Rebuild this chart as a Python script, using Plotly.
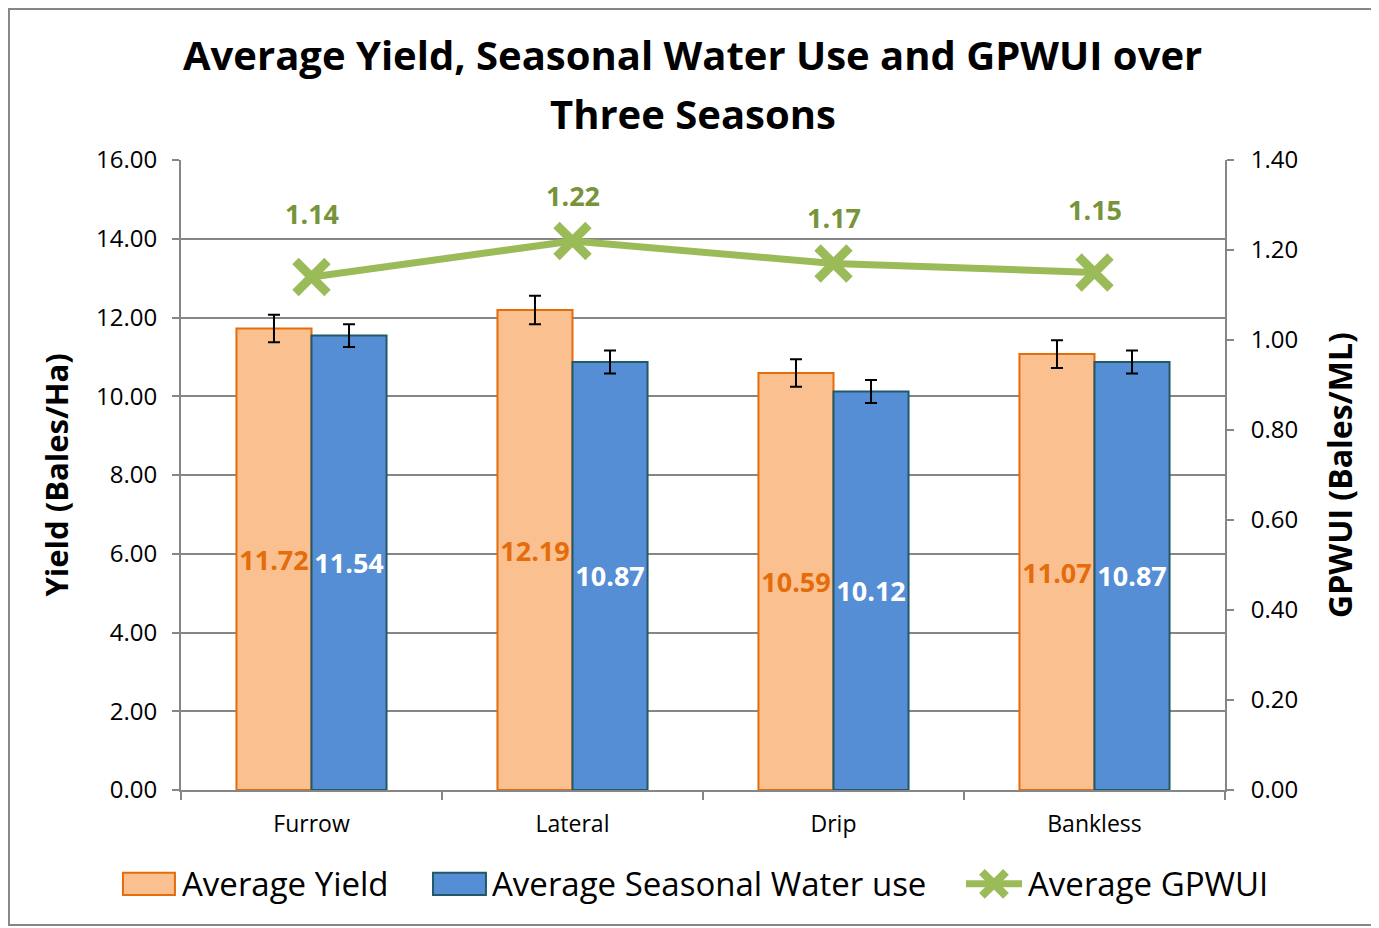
import plotly.graph_objects as go

# data
methods = ["Furrow", "Lateral", "Drip", "Bankless"]
avg_yield = [11.72, 12.19, 10.59, 11.07]
yield_err = [0.35, 0.36, 0.35, 0.35]
avg_water = [11.54, 10.87, 10.12, 10.87]
water_err = [0.29, 0.29, 0.29, 0.29]
avg_gpwui = [1.14, 1.22, 1.17, 1.15]

y_ticks = [0, 2, 4, 6, 8, 10, 12, 14, 16]
y2_ticks = [0, 0.2, 0.4, 0.6, 0.8, 1.0, 1.2, 1.4]

FONT = "Open Sans"
GRID = "#868686"
YIELD_FILL, YIELD_EDGE = "#FAC090", "#E46C0A"
WATER_FILL, WATER_EDGE = "#558ED5", "#215968"
GREEN, GREEN_DARK = "#9BBB59", "#77933C"

fig = go.Figure()

fig.add_trace(go.Bar(
    x=methods, y=avg_yield, name="Average Yield", showlegend=False,
    marker=dict(color=YIELD_FILL, line=dict(color=YIELD_EDGE, width=2)),
    error_y=dict(type="data", array=yield_err, color="black", thickness=2, width=6),
    text=[f"{v:.2f}" for v in avg_yield],
    textposition="inside", insidetextanchor="middle", constraintext="none",
    textfont=dict(family=FONT, size=27, color=YIELD_EDGE, weight="bold"),
    textangle=0,
))

fig.add_trace(go.Bar(
    x=methods, y=avg_water, name="Average Seasonal Water use", showlegend=False,
    marker=dict(color=WATER_FILL, line=dict(color=WATER_EDGE, width=2)),
    error_y=dict(type="data", array=water_err, color="black", thickness=2, width=6),
    text=[f"{v:.2f}" for v in avg_water],
    textposition="inside", insidetextanchor="middle", constraintext="none",
    textfont=dict(family=FONT, size=27, color="white", weight="bold"),
    textangle=0,
))

fig.add_trace(go.Scatter(
    x=methods, y=avg_gpwui, name="Average GPWUI", yaxis="y2", showlegend=False,
    mode="lines+markers",
    line=dict(color=GREEN, width=7),
    marker=dict(symbol="x-thin", size=32, color=GREEN,
                line=dict(color=GREEN, width=9)),
))

# value labels above the GPWUI points (Excel labels were nudged by hand)
label_shift = [64, 46, 46, 63]
for m, v, s in zip(methods, avg_gpwui, label_shift):
    fig.add_annotation(
        x=m, y=v, yref="y2", text=f"{v:.2f}", showarrow=False, yshift=s,
        font=dict(family=FONT, size=27, color=GREEN_DARK, weight="bold"),
    )

# two-line title, placed as annotations to get the wider line spacing
title_lines = ["Average Yield, Seasonal Water Use and GPWUI over", "Three Seasons"]
for line, shift in zip(title_lines, [106, 47]):
    fig.add_annotation(
        x=0.49, xref="paper", y=1, yref="paper", yshift=shift,
        xanchor="center", yanchor="middle", text=line, showarrow=False,
        font=dict(family=FONT, size=40, color="black", weight="bold"),
    )

# Excel-style legend with wide swatches, drawn by hand below the plot
leg_y, leg_h = -0.149, 0.0175
leg_font = dict(family=FONT, size=33, color="black")
swatches = [
    ("Average Yield", YIELD_FILL, YIELD_EDGE, -0.0556, -0.0058, -0.0010),
    ("Average Seasonal Water use", WATER_FILL, WATER_EDGE, 0.2414, 0.2921, 0.2960),
]
for name, fill, edge, x0, x1, tx in swatches:
    fig.add_shape(type="rect", xref="paper", yref="paper",
                  x0=x0, x1=x1, y0=leg_y - leg_h, y1=leg_y + leg_h,
                  fillcolor=fill, line=dict(color=edge, width=2))
    fig.add_annotation(x=tx, y=leg_y, xref="paper", yref="paper", text=name,
                       showarrow=False, xanchor="left", yanchor="middle", font=leg_font)
fig.add_shape(type="line", xref="paper", yref="paper",
              x0=0.7519, x1=0.8056, y0=leg_y, y1=leg_y,
              line=dict(color=GREEN, width=7))
fig.add_shape(type="line", xref="paper", yref="paper",
              x0=0.7787 - 0.0115, x1=0.7787 + 0.0115, y0=leg_y - 0.019, y1=leg_y + 0.019,
              line=dict(color=GREEN, width=8))
fig.add_shape(type="line", xref="paper", yref="paper",
              x0=0.7787 - 0.0115, x1=0.7787 + 0.0115, y0=leg_y + 0.019, y1=leg_y - 0.019,
              line=dict(color=GREEN, width=8))
fig.add_annotation(x=0.8094, y=leg_y, xref="paper", yref="paper", text="Average GPWUI",
                   showarrow=False, xanchor="left", yanchor="middle", font=leg_font)

fig.update_layout(
    width=1371, height=920,
    plot_bgcolor="white", paper_bgcolor="white",
    font=dict(family=FONT, color="black"),
    margin=dict(l=173, r=154, t=152, b=138),
    barmode="group", bargap=0.425, bargroupgap=0,
    showlegend=False,
)

fig.update_xaxes(
    type="category", tickson="boundaries", ticks="outside", ticklen=8,
    tickcolor=GRID, tickwidth=2, showline=True, linecolor=GRID, linewidth=2,
    showgrid=False, ticklabelstandoff=12,
    tickfont=dict(family=FONT, size=23, color="black"),
)

fig.update_layout(
    yaxis=dict(
        range=[0, 16], tickvals=y_ticks, ticktext=[f"{t:.2f}" for t in y_ticks],
        ticks="outside", ticklen=7, tickcolor=GRID, tickwidth=2,
        showline=True, linecolor=GRID, linewidth=2, ticklabelstandoff=10,
        showgrid=True, gridcolor=GRID, gridwidth=2, zeroline=False,
        tickfont=dict(family=FONT, size=24, color="black"),
        title=dict(text="Yield (Bales/Ha)", standoff=18,
                   font=dict(family=FONT, size=31, color="black", weight="bold")),
    ),
    yaxis2=dict(
        range=[0, 1.4], tickvals=y2_ticks, ticktext=[f"{t:.2f}" for t in y2_ticks],
        overlaying="y", side="right",
        ticks="outside", ticklen=7, tickcolor=GRID, tickwidth=2,
        showline=True, linecolor=GRID, linewidth=2, ticklabelstandoff=12,
        showgrid=False, zeroline=False,
        tickfont=dict(family=FONT, size=24, color="black"),
        title=dict(text="GPWUI (Bales/ML)", standoff=32,
                   font=dict(family=FONT, size=32, color="black", weight="bold")),
    ),
)

# outer chart border like the Excel chart area
fig.add_shape(type="rect", xref="paper", yref="paper",
              x0=-0.1648, x1=1.1418, y0=-0.2143, y1=1.2397,
              line=dict(color=GRID, width=2), layer="below")

fig.write_html("out.html")
